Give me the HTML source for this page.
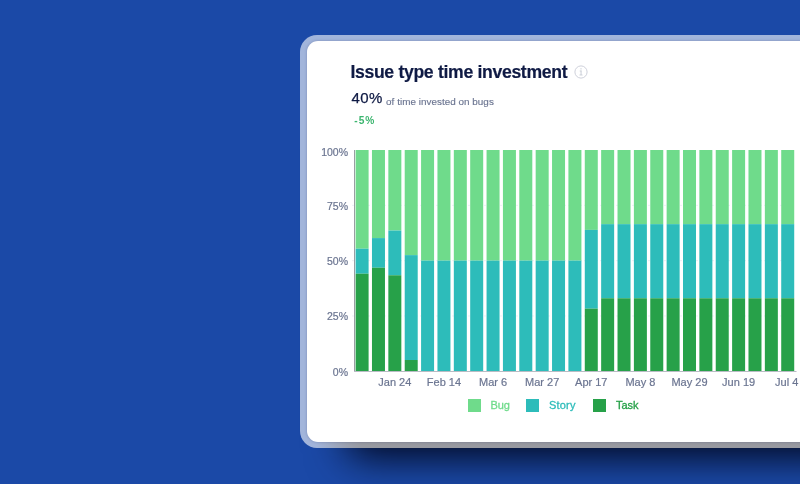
<!DOCTYPE html>
<html lang="en">
<head>
<meta charset="utf-8">
<title>Issue type time investment</title>
<style>
html,body{margin:0;padding:0;}
body{width:800px;height:484px;overflow:hidden;background:#1b49a7;position:relative;font-family:"Liberation Sans",sans-serif;}
.shadow{position:absolute;left:348px;top:140px;width:600px;height:317px;border-radius:10px;background:rgba(0,4,24,1);filter:blur(20px);}
.shadow2{position:absolute;left:300px;top:436px;width:500px;height:12px;background:linear-gradient(to right,rgba(0,2,16,0) 16px,rgba(0,2,16,.9) 62px);}
.frame{position:absolute;left:300.1px;top:34.6px;width:560px;height:413.4px;border-radius:17px;background:rgba(255,255,255,.595);}
.card{position:absolute;left:306.8px;top:41px;width:560px;height:400.9px;border-radius:11px;background:#fff;box-shadow:0 0 3px rgba(10,30,90,.28);}
.title{position:absolute;left:350.4px;top:61.6px;font-size:17.6px;line-height:20px;font-weight:700;color:#0f1a44;white-space:nowrap;letter-spacing:-.31px;-webkit-text-stroke:.2px #0f1a44;}
.info{position:absolute;left:574.35px;top:65px;width:14px;height:14px;}
.big{position:absolute;left:351.4px;top:88.6px;letter-spacing:.45px;font-size:15px;line-height:18px;color:#0f1a44;white-space:nowrap;-webkit-text-stroke:.25px #0f1a44;}
.sub{position:absolute;left:386.1px;top:95.7px;letter-spacing:.03px;-webkit-text-stroke:.15px #6b7591;font-size:9.9px;line-height:12px;color:#6b7591;white-space:nowrap;}
.delta{position:absolute;left:354.3px;top:114.7px;font-size:10.2px;line-height:12px;font-weight:700;color:#3cb56f;white-space:nowrap;letter-spacing:.95px;}
.yl{position:absolute;left:300px;width:48px;text-align:right;font-size:10.5px;line-height:14px;color:#6b7591;white-space:nowrap;-webkit-text-stroke:.2px #6b7591;}
.xl{position:absolute;top:374.2px;transform:translateY(.6px);width:60px;text-align:center;font-size:11px;line-height:14px;color:#6b7591;white-space:nowrap;-webkit-text-stroke:.2px #6b7591;}
svg.chart{position:absolute;left:0;top:0;}
.lg{position:absolute;top:398.6px;width:13.2px;height:13.2px;}
.lt{position:absolute;top:397.1px;transform:translateY(.6px);font-size:11px;line-height:14px;white-space:nowrap;-webkit-text-stroke:.3px currentColor;}
</style>
</head>
<body>
<div class="shadow"></div>
<div class="shadow2"></div>
<div class="frame"></div>
<div class="card"></div>
<div class="title">Issue type time investment</div>
<svg class="info" viewBox="0 0 14 14"><circle cx="7" cy="7" r="6.1" fill="none" stroke="#cbced8" stroke-width="0.95"/><g fill="#c4c8d3"><rect x="6.45" y="3.3" width="1.1" height="1.1"/><rect x="5.7" y="5.6" width="1.8" height="0.8"/><rect x="6.6" y="5.6" width="0.9" height="4.4"/><rect x="5.5" y="9.6" width="3" height="0.8"/></g></svg>
<div class="big">40%</div>
<div class="sub">of time invested on bugs</div>
<div class="delta">-5%</div>
<svg class="chart" width="800" height="484" viewBox="0 0 800 484">
<line x1="352" x2="796" y1="315.98" y2="315.98" stroke="#e9ebf2" stroke-width="0.8" stroke-dasharray="2 2"/>
<line x1="352" x2="796" y1="260.65" y2="260.65" stroke="#e9ebf2" stroke-width="0.8" stroke-dasharray="2 2"/>
<line x1="352" x2="796" y1="205.33" y2="205.33" stroke="#e9ebf2" stroke-width="0.8" stroke-dasharray="2 2"/>
<rect x="355.60" y="150.00" width="13.0" height="98.70" fill="#6fdb8b"/>
<rect x="355.60" y="248.70" width="13.0" height="25.01" fill="#2dbcba"/>
<rect x="355.60" y="273.71" width="13.0" height="97.59" fill="#27a149"/>
<rect x="371.97" y="150.00" width="13.0" height="88.08" fill="#6fdb8b"/>
<rect x="371.97" y="238.08" width="13.0" height="29.65" fill="#2dbcba"/>
<rect x="371.97" y="267.73" width="13.0" height="103.57" fill="#27a149"/>
<rect x="388.34" y="150.00" width="13.0" height="80.55" fill="#6fdb8b"/>
<rect x="388.34" y="230.55" width="13.0" height="44.70" fill="#2dbcba"/>
<rect x="388.34" y="275.26" width="13.0" height="96.04" fill="#27a149"/>
<rect x="404.71" y="150.00" width="13.0" height="105.12" fill="#6fdb8b"/>
<rect x="404.71" y="255.12" width="13.0" height="104.90" fill="#2dbcba"/>
<rect x="404.71" y="360.01" width="13.0" height="11.29" fill="#27a149"/>
<rect x="421.08" y="150.00" width="13.0" height="110.65" fill="#6fdb8b"/>
<rect x="421.08" y="260.65" width="13.0" height="110.65" fill="#2dbcba"/>
<rect x="437.45" y="150.00" width="13.0" height="110.65" fill="#6fdb8b"/>
<rect x="437.45" y="260.65" width="13.0" height="110.65" fill="#2dbcba"/>
<rect x="453.82" y="150.00" width="13.0" height="110.65" fill="#6fdb8b"/>
<rect x="453.82" y="260.65" width="13.0" height="110.65" fill="#2dbcba"/>
<rect x="470.19" y="150.00" width="13.0" height="110.65" fill="#6fdb8b"/>
<rect x="470.19" y="260.65" width="13.0" height="110.65" fill="#2dbcba"/>
<rect x="486.56" y="150.00" width="13.0" height="110.65" fill="#6fdb8b"/>
<rect x="486.56" y="260.65" width="13.0" height="110.65" fill="#2dbcba"/>
<rect x="502.93" y="150.00" width="13.0" height="110.65" fill="#6fdb8b"/>
<rect x="502.93" y="260.65" width="13.0" height="110.65" fill="#2dbcba"/>
<rect x="519.30" y="150.00" width="13.0" height="110.65" fill="#6fdb8b"/>
<rect x="519.30" y="260.65" width="13.0" height="110.65" fill="#2dbcba"/>
<rect x="535.67" y="150.00" width="13.0" height="110.65" fill="#6fdb8b"/>
<rect x="535.67" y="260.65" width="13.0" height="110.65" fill="#2dbcba"/>
<rect x="552.04" y="150.00" width="13.0" height="110.65" fill="#6fdb8b"/>
<rect x="552.04" y="260.65" width="13.0" height="110.65" fill="#2dbcba"/>
<rect x="568.41" y="150.00" width="13.0" height="110.65" fill="#6fdb8b"/>
<rect x="568.41" y="260.65" width="13.0" height="110.65" fill="#2dbcba"/>
<rect x="584.78" y="150.00" width="13.0" height="79.89" fill="#6fdb8b"/>
<rect x="584.78" y="229.89" width="13.0" height="78.78" fill="#2dbcba"/>
<rect x="584.78" y="308.67" width="13.0" height="62.63" fill="#27a149"/>
<rect x="601.15" y="150.00" width="13.0" height="74.14" fill="#6fdb8b"/>
<rect x="601.15" y="224.14" width="13.0" height="74.14" fill="#2dbcba"/>
<rect x="601.15" y="298.27" width="13.0" height="73.03" fill="#27a149"/>
<rect x="617.52" y="150.00" width="13.0" height="74.14" fill="#6fdb8b"/>
<rect x="617.52" y="224.14" width="13.0" height="74.14" fill="#2dbcba"/>
<rect x="617.52" y="298.27" width="13.0" height="73.03" fill="#27a149"/>
<rect x="633.89" y="150.00" width="13.0" height="74.14" fill="#6fdb8b"/>
<rect x="633.89" y="224.14" width="13.0" height="74.14" fill="#2dbcba"/>
<rect x="633.89" y="298.27" width="13.0" height="73.03" fill="#27a149"/>
<rect x="650.26" y="150.00" width="13.0" height="74.14" fill="#6fdb8b"/>
<rect x="650.26" y="224.14" width="13.0" height="74.14" fill="#2dbcba"/>
<rect x="650.26" y="298.27" width="13.0" height="73.03" fill="#27a149"/>
<rect x="666.63" y="150.00" width="13.0" height="74.14" fill="#6fdb8b"/>
<rect x="666.63" y="224.14" width="13.0" height="74.14" fill="#2dbcba"/>
<rect x="666.63" y="298.27" width="13.0" height="73.03" fill="#27a149"/>
<rect x="683.00" y="150.00" width="13.0" height="74.14" fill="#6fdb8b"/>
<rect x="683.00" y="224.14" width="13.0" height="74.14" fill="#2dbcba"/>
<rect x="683.00" y="298.27" width="13.0" height="73.03" fill="#27a149"/>
<rect x="699.37" y="150.00" width="13.0" height="74.14" fill="#6fdb8b"/>
<rect x="699.37" y="224.14" width="13.0" height="74.14" fill="#2dbcba"/>
<rect x="699.37" y="298.27" width="13.0" height="73.03" fill="#27a149"/>
<rect x="715.74" y="150.00" width="13.0" height="74.14" fill="#6fdb8b"/>
<rect x="715.74" y="224.14" width="13.0" height="74.14" fill="#2dbcba"/>
<rect x="715.74" y="298.27" width="13.0" height="73.03" fill="#27a149"/>
<rect x="732.11" y="150.00" width="13.0" height="74.14" fill="#6fdb8b"/>
<rect x="732.11" y="224.14" width="13.0" height="74.14" fill="#2dbcba"/>
<rect x="732.11" y="298.27" width="13.0" height="73.03" fill="#27a149"/>
<rect x="748.48" y="150.00" width="13.0" height="74.14" fill="#6fdb8b"/>
<rect x="748.48" y="224.14" width="13.0" height="74.14" fill="#2dbcba"/>
<rect x="748.48" y="298.27" width="13.0" height="73.03" fill="#27a149"/>
<rect x="764.85" y="150.00" width="13.0" height="74.14" fill="#6fdb8b"/>
<rect x="764.85" y="224.14" width="13.0" height="74.14" fill="#2dbcba"/>
<rect x="764.85" y="298.27" width="13.0" height="73.03" fill="#27a149"/>
<rect x="781.22" y="150.00" width="13.0" height="74.14" fill="#6fdb8b"/>
<rect x="781.22" y="224.14" width="13.0" height="74.14" fill="#2dbcba"/>
<rect x="781.22" y="298.27" width="13.0" height="73.03" fill="#27a149"/>
<rect x="354" y="150" width="1" height="221.8" fill="#9b9da3"/>
<rect x="354" y="371" width="442.5" height="1" fill="#b9bcc4"/>
</svg>
<div class="yl" style="top:145.00px">100%</div>
<div class="yl" style="top:198.63px">75%</div>
<div class="yl" style="top:253.95px">50%</div>
<div class="yl" style="top:309.28px">25%</div>
<div class="yl" style="top:364.60px">0%</div>
<div class="xl" style="left:364.84px">Jan 24</div>
<div class="xl" style="left:413.95px">Feb 14</div>
<div class="xl" style="left:463.06px">Mar 6</div>
<div class="xl" style="left:512.17px">Mar 27</div>
<div class="xl" style="left:561.28px">Apr 17</div>
<div class="xl" style="left:610.39px">May 8</div>
<div class="xl" style="left:659.50px">May 29</div>
<div class="xl" style="left:708.61px">Jun 19</div>
<div class="xl" style="left:756.72px">Jul 4</div>
<div class="lg" style="left:467.6px;background:#6fdb8b"></div><div class="lt" style="left:490.4px;color:#6fdb8b">Bug</div>
<div class="lg" style="left:526.2px;background:#2dbcba"></div><div class="lt" style="left:549px;color:#2dbcba;letter-spacing:.2px">Story</div>
<div class="lg" style="left:593px;background:#27a149"></div><div class="lt" style="left:616px;color:#27a149">Task</div>
</body>
</html>
